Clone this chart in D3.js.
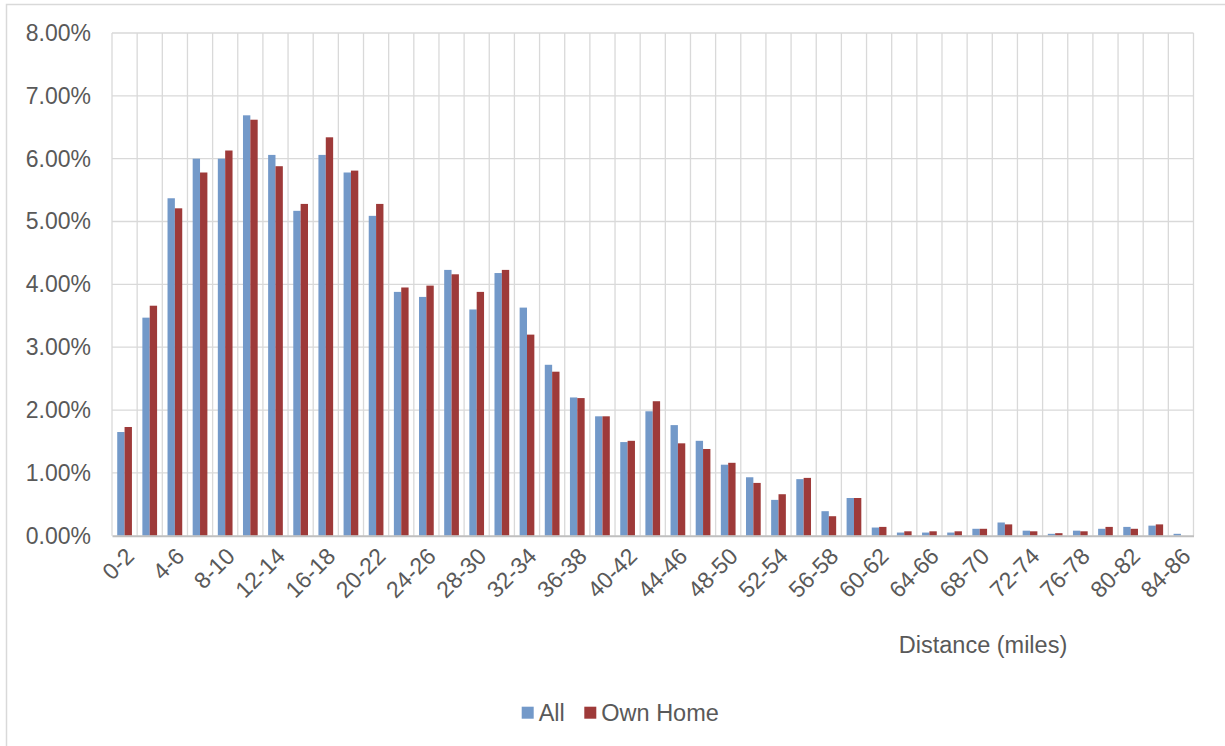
<!DOCTYPE html>
<html>
<head>
<meta charset="utf-8">
<script src="https://cdn.jsdelivr.net/npm/d3@7"></script>
<style>
  html, body { margin: 0; padding: 0; background: #fff; }
  svg { display: block; font-family: "Liberation Sans", Arial, sans-serif; }
</style>
</head>
<body>
<svg id="chart" width="1225" height="746"></svg>
<script>
// Distance bands (miles)
const categories = [
  "0-2","2-4","4-6","6-8","8-10","10-12","12-14","14-16","16-18","18-20",
  "20-22","22-24","24-26","26-28","28-30","30-32","32-34","34-36","36-38","38-40",
  "40-42","42-44","44-46","46-48","48-50","50-52","52-54","54-56","56-58","58-60",
  "60-62","62-64","64-66","66-68","68-70","70-72","72-74","74-76","76-78","78-80",
  "80-82","82-84","84-86"
];

// Share of trips per band, in percent
const allValues = [
  1.65, 3.47, 5.37, 6.00, 6.00, 6.69, 6.06, 5.17, 6.06, 5.78,
  5.09, 3.88, 3.80, 4.23, 3.60, 4.18, 3.63, 2.72, 2.20, 1.90,
  1.49, 1.98, 1.76, 1.51, 1.13, 0.93, 0.57, 0.90, 0.39, 0.60,
  0.13, 0.05, 0.05, 0.05, 0.11, 0.21, 0.08, 0.03, 0.08, 0.11,
  0.14, 0.16, 0.03
];
const ownHomeValues = [
  1.73, 3.66, 5.21, 5.78, 6.13, 6.62, 5.88, 5.28, 6.34, 5.81,
  5.28, 3.95, 3.98, 4.16, 3.88, 4.23, 3.20, 2.61, 2.19, 1.90,
  1.51, 2.14, 1.47, 1.38, 1.16, 0.84, 0.66, 0.92, 0.31, 0.60,
  0.14, 0.07, 0.07, 0.07, 0.11, 0.18, 0.07, 0.04, 0.07, 0.14,
  0.11, 0.18, 0.00
];

const seriesNames = ["All", "Own Home"];
const seriesColors = ["#7399C9", "#9E3A39"];
const yTicks = [0, 1, 2, 3, 4, 5, 6, 7, 8];

const svg = d3.select("#chart");
const textColor = "#595959";
const gridColor = "#d9d9d9";

// Outer chart frame
svg.append("rect")
  .attr("x", 6.5).attr("y", 4.5)
  .attr("width", 1240).attr("height", 760)
  .attr("fill", "none").attr("stroke", gridColor).attr("stroke-width", 1.5);

const plot = { left: 112, top: 33, right: 1193.5, bottom: 535.7 };

const x = d3.scaleBand()
  .domain(categories)
  .range([plot.left, plot.right])
  .paddingInner(0.415)
  .paddingOuter(0.2075);

const step = x.step();

const xs = d3.scaleBand()
  .domain(seriesNames)
  .range([0, x.bandwidth()]);

const y = d3.scaleLinear()
  .domain([0, 8])
  .range([plot.bottom, plot.top]);

const g = svg.append("g");

// Horizontal gridlines
g.append("g")
  .selectAll("line")
  .data(yTicks.slice(1))
  .join("line")
  .attr("x1", plot.left).attr("x2", plot.right)
  .attr("y1", d => y(d)).attr("y2", d => y(d))
  .attr("stroke", gridColor).attr("stroke-width", 1.3);

// Vertical gridlines at every category boundary
const boundaries = categories.map(c => x(c) - x.paddingOuter() * step);
boundaries.push(plot.right);
g.append("g")
  .selectAll("line")
  .data(boundaries)
  .join("line")
  .attr("x1", d => d).attr("x2", d => d)
  .attr("y1", plot.top).attr("y2", plot.bottom)
  .attr("stroke", gridColor).attr("stroke-width", 1.3);

// Bars
const seriesData = [allValues, ownHomeValues];
seriesNames.forEach((name, si) => {
  g.append("g")
    .selectAll("rect")
    .data(categories.map((c, i) => ({ c, v: seriesData[si][i] })))
    .join("rect")
    .attr("x", d => x(d.c) + xs(name))
    .attr("width", xs.bandwidth())
    .attr("y", d => y(d.v))
    .attr("height", d => y(0) - y(d.v))
    .attr("fill", seriesColors[si]);
});

// Y axis labels
const yAxis = d3.axisLeft(y)
  .tickValues(yTicks)
  .tickFormat(d => d3.format(".2f")(d) + "%")
  .tickSize(0)
  .tickPadding(21);
const yg = svg.append("g")
  .attr("transform", `translate(${plot.left},0)`)
  .call(yAxis);
yg.select(".domain").remove();
yg.selectAll("text")
  .attr("fill", textColor)
  .style("font-size", "23px")
  .style("font-family", "'Liberation Sans', Arial, sans-serif");

// X axis (category labels on every other band)
const xAxis = d3.axisBottom(x)
  .tickValues(categories.filter((c, i) => i % 2 === 0))
  .tickSize(0)
  .tickPadding(0);
const xg = svg.append("g")
  .attr("transform", `translate(0,${plot.bottom})`)
  .call(xAxis);
xg.select(".domain")
  .attr("stroke", "#bfbfbf").attr("stroke-width", 2);
xg.selectAll("text")
  .attr("fill", textColor)
  .style("font-size", "23px")
  .style("font-family", "'Liberation Sans', Arial, sans-serif")
  .attr("text-anchor", "end")
  .attr("dy", null)
  .attr("y", 0)
  .attr("transform", "translate(11,22) rotate(-45)");

// Axis title
svg.append("text")
  .attr("x", 983).attr("y", 653)
  .attr("text-anchor", "middle")
  .attr("fill", textColor)
  .style("font-size", "23.5px")
  .text("Distance (miles)");

// Legend
const legend = svg.append("g");
const legendItems = [
  { name: seriesNames[0], color: seriesColors[0], x: 521.7 },
  { name: seriesNames[1], color: seriesColors[1], x: 584.3 }
];
legendItems.forEach(it => {
  legend.append("rect")
    .attr("x", it.x).attr("y", 706.7)
    .attr("width", 12).attr("height", 12)
    .attr("fill", it.color);
  legend.append("text")
    .attr("x", it.x + 17).attr("y", 720.5)
    .attr("fill", textColor)
    .style("font-size", "23.5px")
    .text(it.name);
});
</script>
</body>
</html>
